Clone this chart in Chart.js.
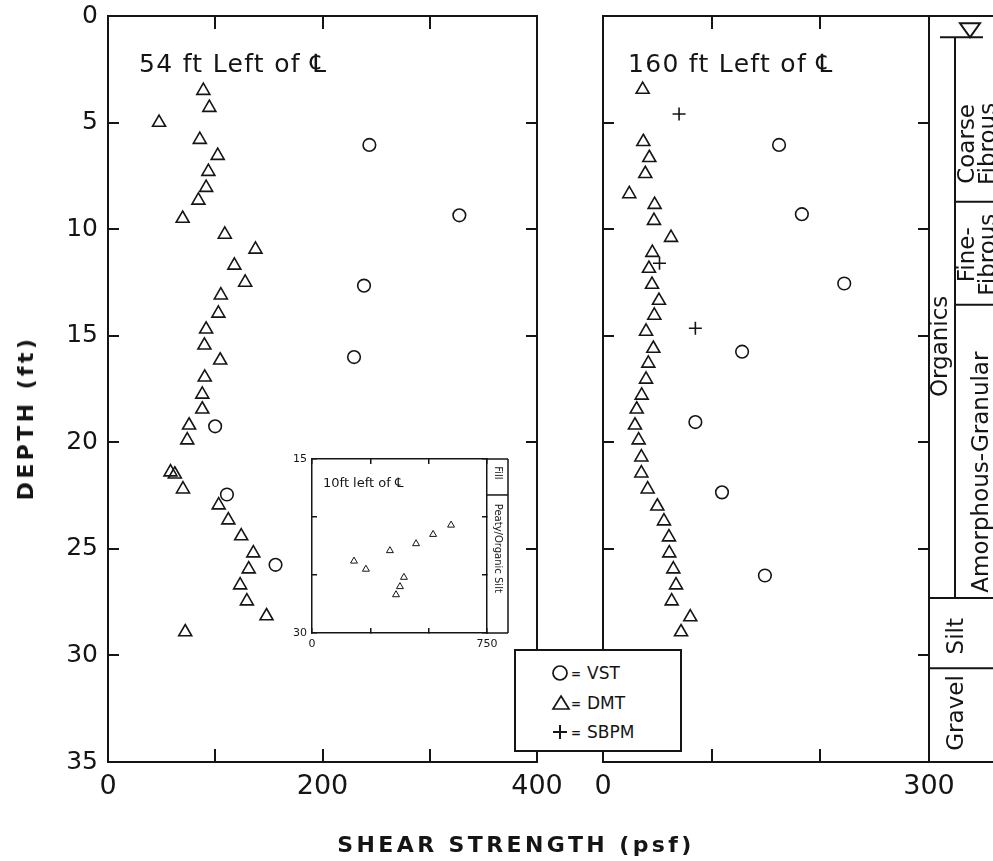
<!DOCTYPE html>
<html lang="en">
<head>
<meta charset="utf-8">
<title>Shear strength vs depth</title>
<script src="https://cdn.jsdelivr.net/npm/chart.js@4.4.1/dist/chart.umd.min.js"></script>
<style>
  body { margin: 0; width: 993px; height: 861px; overflow: hidden; position: relative; background: #fff; color: #151515; font-family: 'DejaVu Sans', sans-serif; }
  canvas { position: absolute; top: 0; }
  #chartIzq { left: 0; }
  #chartDer { left: 575px; }
  #chartInset { left: 280px; top: 440px; }
  .txt { position: absolute; white-space: nowrap; line-height: 1; }
  .panel { font-size: 25px; letter-spacing: 1.3px; }
  .eje { font-size: 22px; font-weight: bold; letter-spacing: 3.4px; transform: translate(-50%, -50%); }
  #leyenda { position: absolute; left: 514px; top: 649px; width: 164px; height: 99px; border: 2px solid #151515; background: #fff; font-size: 17px; }
  #leyenda div, #leyenda svg { position: absolute; line-height: 1; transform: translate(-50%, -50%); }
  #leyenda .eq { font-size: 12px; font-weight: bold; }
  #leyenda .lab { transform: translate(0, -50%); }
</style>
</head>
<body>
<canvas id="chartIzq" width="580" height="861"></canvas>
<canvas id="chartDer" width="418" height="861"></canvas>
<canvas id="chartInset" width="250" height="225"></canvas>

<div class="txt panel" style="left:139px; top:51px">54 ft Left of ℄</div>
<div class="txt panel" style="left:628px; top:51px">160 ft Left of ℄</div>
<div class="txt" style="left:323px; top:476px; font-size:13px">10ft left of ℄</div>
<div class="txt eje" style="left:26px; top:418px; transform: translate(-50%, -50%) rotate(-90deg)">DEPTH (ft)</div>
<div class="txt eje" style="left:516px; top:845px">SHEAR STRENGTH&nbsp;(psf)</div>

<div id="leyenda">
  <svg width="18" height="18" style="left:44px; top:22px"><circle cx="9" cy="9" r="7" fill="none" stroke="#151515" stroke-width="1.7"/></svg>
  <div class="eq" style="left:60px; top:23px">=</div><div class="lab" style="left:71px; top:22px">VST</div>
  <svg width="20" height="18" style="left:45px; top:52px"><path d="M10 2 L18 15 L2 15 Z" fill="none" stroke="#151515" stroke-width="1.7"/></svg>
  <div class="eq" style="left:60px; top:53px">=</div><div class="lab" style="left:71px; top:52px">DMT</div>
  <svg width="18" height="18" style="left:44px; top:81px"><path d="M9 2 V16 M2 9 H16" fill="none" stroke="#151515" stroke-width="2"/></svg>
  <div class="eq" style="left:60px; top:82px">=</div><div class="lab" style="left:71px; top:81px">SBPM</div>
</div>

<script>
const FONT = "'DejaVu Sans', sans-serif";
const INK = '#151515';

// profundidad (ft)
const depthLabels = [0, 5, 10, 15, 20, 25, 30, 35];

// 54 ft left of CL
const x54Labels = [0, 200, 400];
const dmt54Strength = [88.9, 94.5, 47.6, 85.6, 102.3, 93.6, 91.5, 84.3, 69.6, 108.9, 137.5, 117.8, 127.9, 105.2, 102.9, 91.5, 89.9, 104.6, 90.2, 87.9,
                       87.9, 75.6, 73.9, 58.3, 62.3, 69.9, 103.2, 112.2, 124.2, 135.5, 131.2, 123.2, 129.5, 147.8, 72.0];
const dmt54Depth = [3.5, 4.3, 5.0, 5.8, 6.55, 7.3, 8.05, 8.65, 9.5, 10.25, 10.95, 11.7, 12.5, 13.1, 13.95, 14.7, 15.45, 16.15, 16.95, 17.75,
                    18.45, 19.2, 19.9, 21.4, 21.5, 22.2, 22.95, 23.65, 24.4, 25.2, 25.95, 26.7, 27.45, 28.15, 28.9];
const vst54Strength = [243.7, 327.6, 238.7, 229.4, 99.9, 110.9, 156.2];
const vst54Depth = [6.05, 9.35, 12.65, 16.0, 19.25, 22.45, 25.75];

// 160 ft left of CL
const x160Labels = [0, 300];
const dmt160Strength = [36.5, 37.1, 42.6, 38.9, 24.2, 47.5, 46.9, 62.6, 45.4, 42.3, 45.1, 51.5, 47.2, 39.6, 46.3, 41.7, 39.6, 35.6,
                        31.0, 29.4, 32.8, 35.3, 35.3, 41.1, 50.0, 56.1, 60.7, 61.0, 64.7, 67.2, 63.2, 80.3, 71.8];
const dmt160Depth = [3.45, 5.9, 6.65, 7.4, 8.35, 8.85, 9.6, 10.4, 11.1, 11.85, 12.6, 13.35, 14.05, 14.8, 15.6, 16.3, 17.05, 17.8,
                     18.45, 19.2, 19.9, 20.7, 21.45, 22.2, 23.0, 23.7, 24.45, 25.2, 25.95, 26.7, 27.45, 28.2, 28.9];
const vst160Strength = [162, 183, 222, 128, 85, 109.5, 149];
const vst160Depth = [6.05, 9.3, 12.55, 15.75, 19.05, 22.35, 26.25];
const sbpm160Strength = [70, 52, 85];
const sbpm160Depth = [4.6, 11.6, 14.65];

// perfil de suelo (ft)
const waterTableDepth = 1.0;
const organicsBottom = 27.3;
const organicsLabelDepth = 15.5;
const subLayerNames = [['Coarse', 'Fibrous'], ['Fine-', 'Fibrous'], ['Amorphous-Granular']];
const subLayerTops = [1.0, 8.72, 13.55];
const subLayerLabelDepths = [6.0, 11.2, 21.4];
const lowerLayerNames = ['Silt', 'Gravel'];
const lowerLayerTops = [27.3, 30.6];
const lowerLabelDepths = [29.1, 32.7];

// inset: 10 ft left of CL
const insetXLabels = [0, 750];
const insetDepthLabels = [15, 30];
const dmt10Strength = [180, 231, 334, 446, 519, 596, 394, 377, 360];
const dmt10Depth = [23.8, 24.5, 22.9, 22.3, 21.5, 20.7, 25.2, 26.0, 26.7];
const insetLayerNames = ['Fill', 'Peaty/Organic Silt'];
const insetLayerTops = [15, 18.1];
const insetLabelDepths = [16.2, 22.7];


function puntos(xs, ys){
    return xs.map((x, i) => ({x: x, y: ys[i]}))
}

function serie(label, xs, ys, estilo, radio, grosor){
    return {
        label: label,
        data: puntos(xs, ys),
        pointStyle: estilo,
        pointRadius: radio,
        pointBorderWidth: grosor,
        pointBorderColor: INK,
        pointBackgroundColor: 'rgba(0,0,0,0)',
        showLine: false
    }
}

function sinPadding(s){
    s.paddingLeft = 0; s.paddingRight = 0; s.paddingTop = 0; s.paddingBottom = 0;
}

function ejeX(pos, max, step, labels, e){
    return {
        type: 'linear', axis: 'x', position: pos, min: 0, max: max,
        ticks: {
            stepSize: step, autoSkip: false, maxRotation: 0, padding: e.pad, color: INK,
            font: {family: FONT, size: e.font},
            callback: v => labels.includes(v) ? v : ''
        },
        grid: {drawOnChartArea: false, tickLength: -e.tick, lineWidth: e.line, color: INK},
        border: {display: true, width: e.line, color: INK},
        afterFit: s => { s.height = pos === 'bottom' ? e.size : 0; sinPadding(s) }
    }
}

function ejeY(pos, min, max, labels, e){
    return {
        type: 'linear', axis: 'y', position: pos, reverse: true, min: min, max: max,
        ticks: {
            stepSize: 5, autoSkip: false, padding: e.pad, color: INK,
            font: {family: FONT, size: e.font},
            callback: v => labels.includes(v) ? v : ''
        },
        grid: {drawOnChartArea: false, tickLength: -e.tick, lineWidth: e.line, color: INK},
        border: {display: true, width: e.line, color: INK},
        afterFit: s => { s.width = pos === 'left' ? e.size : 0; sinPadding(s) }
    }
}

function linea(ctx, x1, y1, x2, y2){
    ctx.beginPath();
    ctx.moveTo(x1, y1);
    ctx.lineTo(x2, y2);
    ctx.stroke();
}

function textoVertical(ctx, lineas, x, y, paso, angulo){
    lineas.forEach((t, i) => {
        ctx.save();
        ctx.translate(x + i * paso, y);
        ctx.rotate(angulo);
        ctx.textAlign = 'center';
        ctx.textBaseline = 'middle';
        ctx.fillText(t, 0, 0);
        ctx.restore();
    })
}

const columnaSuelo = {
    id: 'columnaSuelo',
    afterDraw(chart){
        const {ctx, chartArea: a} = chart;
        const y = chart.scales.y;
        const x0 = a.right, x1 = chart.width, xIn = x0 + 26;
        const yw = y.getPixelForValue(waterTableDepth);
        ctx.save();
        ctx.strokeStyle = INK;
        ctx.fillStyle = INK;
        ctx.lineWidth = 2;
        linea(ctx, x0, a.top, x1, a.top);
        linea(ctx, x0, a.bottom, x1, a.bottom);
        linea(ctx, xIn, yw, xIn, y.getPixelForValue(organicsBottom));
        subLayerTops.slice(1).forEach(d => linea(ctx, xIn, y.getPixelForValue(d), x1, y.getPixelForValue(d)));
        lowerLayerTops.forEach(d => linea(ctx, x0, y.getPixelForValue(d), x1, y.getPixelForValue(d)));
        // nivel freatico
        linea(ctx, x0 + 11, yw, x0 + 54, yw);
        ctx.beginPath();
        ctx.moveTo(x0 + 31, yw - 14);
        ctx.lineTo(x0 + 51, yw - 14);
        ctx.lineTo(x0 + 41, yw);
        ctx.closePath();
        ctx.stroke();

        ctx.font = `23px ${FONT}`;
        textoVertical(ctx, ['Organics'], x0 + 12, y.getPixelForValue(organicsLabelDepth), 0, -Math.PI / 2);
        subLayerNames.forEach((n, i) => {
            let xt = n.length > 1 ? x0 + 39 : x0 + 53;
            textoVertical(ctx, n, xt, y.getPixelForValue(subLayerLabelDepths[i]), 21, -Math.PI / 2);
        });
        lowerLayerNames.forEach((n, i) => {
            textoVertical(ctx, [n], x0 + 28, y.getPixelForValue(lowerLabelDepths[i]), 0, -Math.PI / 2);
        });
        ctx.restore();
    }
}

const columnaInset = {
    id: 'columnaInset',
    afterDraw(chart){
        const {ctx, chartArea: a} = chart;
        const y = chart.scales.y;
        const x0 = a.right, x1 = a.right + 21;
        ctx.save();
        ctx.strokeStyle = INK;
        ctx.fillStyle = INK;
        ctx.lineWidth = 1.5;
        linea(ctx, x0, a.top, x1, a.top);
        linea(ctx, x0, a.bottom, x1, a.bottom);
        linea(ctx, x1, a.top, x1, a.bottom);
        insetLayerTops.slice(1).forEach(d => linea(ctx, x0, y.getPixelForValue(d), x1, y.getPixelForValue(d)));
        ctx.font = `10px ${FONT}`;
        insetLayerNames.forEach((n, i) => {
            textoVertical(ctx, [n], x0 + 10.5, y.getPixelForValue(insetLabelDepths[i]), 0, Math.PI / 2);
        });
        ctx.restore();
    }
}

function grafico(id, datasets, scales, padding, extras){
    return new Chart(document.getElementById(id), {
        type: 'scatter',
        data: {datasets: datasets},
        options: {
            responsive: false,
            animation: false,
            events: [],
            layout: {padding: padding},
            plugins: {legend: {display: false}, tooltip: {enabled: false}},
            scales: scales
        },
        plugins: extras
    })
}

const grande = {font: 27, pad: 22, tick: 13, line: 2, size: 60};
const grandeY = {font: 25, pad: 21, tick: 11, line: 2, size: 108};

grafico('chartIzq', [
    serie('VST', vst54Strength, vst54Depth, 'circle', 6.3, 1.6),
    serie('DMT', dmt54Strength, dmt54Depth, 'triangle', 7.5, 1.6)
], {
    x: ejeX('bottom', 400, 100, x54Labels, grande),
    x2: ejeX('top', 400, 100, [], grande),
    y: ejeY('left', 0, 35, depthLabels, grandeY),
    y2: ejeY('right', 0, 35, [], grandeY)
}, {left: 0, top: 16, right: 43, bottom: 39}, []);

const derY = Object.assign({}, grandeY, {size: 28});
grafico('chartDer', [
    serie('VST', vst160Strength, vst160Depth, 'circle', 6.3, 1.6),
    serie('DMT', dmt160Strength, dmt160Depth, 'triangle', 7.5, 1.6),
    serie('SBPM', sbpm160Strength, sbpm160Depth, 'cross', 6.5, 1.6)
], {
    x: ejeX('bottom', 300, 100, x160Labels, grande),
    x2: ejeX('top', 300, 100, [], grande),
    y: ejeY('left', 0, 35, [], derY),
    y2: ejeY('right', 0, 35, [], derY)
}, {left: 0, top: 16, right: 64, bottom: 39}, [columnaSuelo]);

const chico = {font: 11, pad: 10, tick: 5, line: 1.5, size: 20};
const chicoY = {font: 11, pad: 10, tick: 5, line: 1.5, size: 32};
grafico('chartInset', [
    serie('DMT', dmt10Strength, dmt10Depth, 'triangle', 4, 1)
], {
    x: ejeX('bottom', 750, 250, insetXLabels, chico),
    x2: ejeX('top', 750, 250, [], chico),
    y: ejeY('left', 15, 30, insetDepthLabels, chicoY),
    y2: ejeY('right', 15, 30, [], chicoY)
}, {left: 0, top: 19, right: 43, bottom: 12}, [columnaInset]);
</script>
</body>
</html>
